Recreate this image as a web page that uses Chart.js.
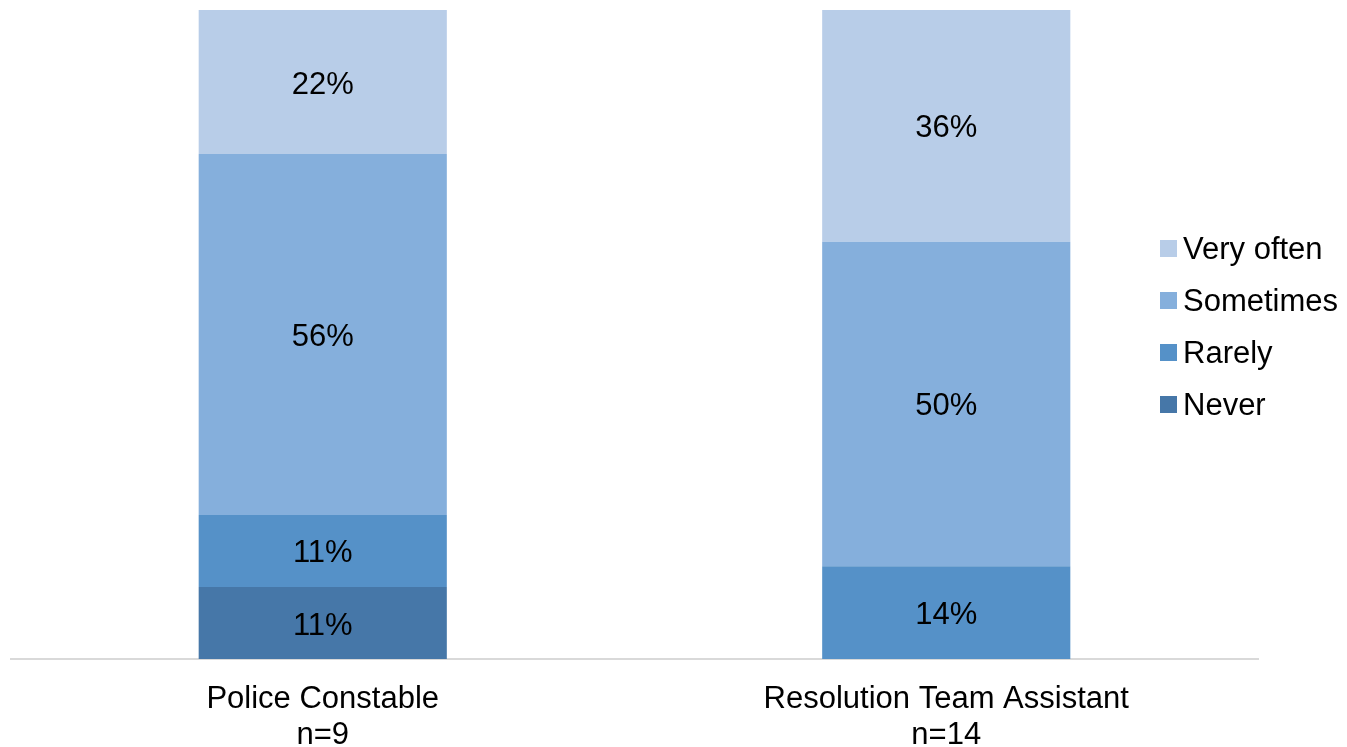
<!DOCTYPE html>
<html>
<head>
<meta charset="utf-8">
<script src="https://cdn.jsdelivr.net/npm/chart.js@4/dist/chart.umd.min.js"></script>
<style>
html,body{margin:0;padding:0;background:#fff;}
#wrap{width:1347px;height:747px;position:relative;}
</style>
</head>
<body>
<div id="wrap"><canvas id="c" width="1347" height="747"></canvas></div>
<script>
const categories = [["Police Constable","n=9"],["Resolution Team Assistant","n=14"]];
const seriesNames = ["Never","Rarely","Sometimes","Very often"];
const never = [11.1, 0];
const rarely = [11.1, 14.3];
const sometimes = [55.6, 50.0];
const veryOften = [22.2, 35.7];
const colors = ["#4677A8","#5591C8","#85AFDC","#B8CDE8"];

const FONT = '"Liberation Sans", Arial, sans-serif';
const FS = 31;

const labelPlugin = {
  id:'segLabels',
  afterDatasetsDraw(chart){
    const ctx = chart.ctx;
    ctx.save();
    ctx.font = FS + 'px ' + FONT;
    ctx.fillStyle = '#000';
    ctx.textAlign = 'center';
    ctx.textBaseline = 'middle';
    chart.data.datasets.forEach((ds,i)=>{
      const meta = chart.getDatasetMeta(i);
      meta.data.forEach((bar,j)=>{
        const v = ds.data[j];
        if(!v) return;
        const cy = (bar.y + bar.base)/2;
        ctx.fillText(Math.round(v)+'%', bar.x, cy+3);
      });
    });
    ctx.restore();
  }
};

const legendPlugin = {
  id:'customLegend',
  afterDraw(chart){
    const ctx = chart.ctx;
    ctx.save();
    ctx.font = FS + 'px ' + FONT;
    ctx.textBaseline = 'middle';
    ctx.textAlign = 'left';
    const ds = chart.data.datasets;
    const n = ds.length;
    for(let k=0;k<n;k++){
      const d = ds[n-1-k];
      const y = 248 + k*52;
      ctx.fillStyle = d.backgroundColor;
      ctx.fillRect(1160, y-8, 17, 17);
      ctx.fillStyle = '#000';
      ctx.fillText(d.label, 1183, y+2);
    }
    ctx.restore();
  }
};

const datasets = [never, rarely, sometimes, veryOften].map((arr,i)=>({
  label: seriesNames[i],
  data: arr,
  backgroundColor: colors[i],
  borderWidth: 0,
  barPercentage: 0.398,
  categoryPercentage: 1.0
}));

new Chart(document.getElementById('c'), {
  type:'bar',
  data:{ labels: categories, datasets },
  options:{
    responsive:false,
    animation:false,
    layout:{ padding:{ left:11, right:89, top:10, bottom:0 } },
    plugins:{ legend:{display:false}, tooltip:{enabled:false} },
    scales:{
      x:{
        stacked:true,
        afterFit(scale){ scale.height = 88; },
        grid:{ display:false, drawTicks:false },
        border:{ display:true, color:'#D9D9D9', width:2 },
        ticks:{ color:'#000', font:{ family:FONT, size:FS, lineHeight:36/31 }, padding:22, maxRotation:0 }
      },
      y:{
        stacked:true, display:false, min:0, max:100
      }
    }
  },
  plugins:[labelPlugin, legendPlugin]
});
</script>
</body>
</html>
